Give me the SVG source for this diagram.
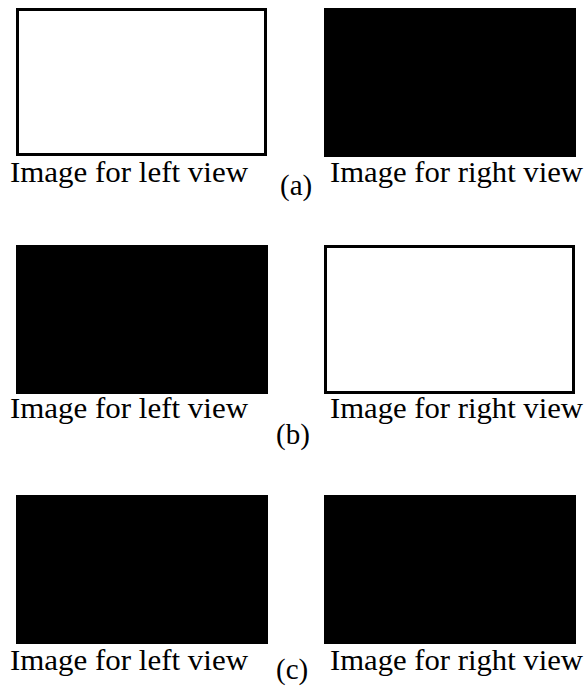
<svg xmlns="http://www.w3.org/2000/svg" width="585" height="686" viewBox="0 0 585 686">
<style>
.w{fill:#fff;stroke:#000;stroke-width:3}
.b{fill:#000}
.t{font-family:"Liberation Serif","Times New Roman",serif;font-size:30px;fill:#000}
.l{font-family:"Liberation Serif","Times New Roman",serif;font-size:29px;fill:#000}
</style>
<rect width="585" height="686" fill="#fff"/>
<g id="row-a">
<g id="a-left"><rect class="w" x="17.5" y="9.5" width="248" height="145"/><text class="t" x="10" y="182" textLength="238" lengthAdjust="spacingAndGlyphs">Image for left view</text></g>
<g id="a-right"><rect class="b" x="324" y="8" width="252" height="149"/><text class="t" x="330" y="182" textLength="253" lengthAdjust="spacingAndGlyphs">Image for right view</text></g>
<text id="label-a" class="l" x="280" y="195">(a)</text>
</g>
<g id="row-b">
<g id="b-left"><rect class="b" x="16" y="245" width="252" height="149"/><text class="t" x="10" y="418" textLength="238" lengthAdjust="spacingAndGlyphs">Image for left view</text></g>
<g id="b-right"><rect class="w" x="325.5" y="246.5" width="248" height="146"/><text class="t" x="330" y="418" textLength="253" lengthAdjust="spacingAndGlyphs">Image for right view</text></g>
<text id="label-b" class="l" x="276" y="444">(b)</text>
</g>
<g id="row-c">
<g id="c-left"><rect class="b" x="16" y="495" width="252" height="149"/><text class="t" x="10" y="670" textLength="238" lengthAdjust="spacingAndGlyphs">Image for left view</text></g>
<g id="c-right"><rect class="b" x="324" y="495" width="252" height="149"/><text class="t" x="330" y="670" textLength="253" lengthAdjust="spacingAndGlyphs">Image for right view</text></g>
<text id="label-c" class="l" x="276" y="679">(c)</text>
</g>
<g id="connectors"/>
</svg>
